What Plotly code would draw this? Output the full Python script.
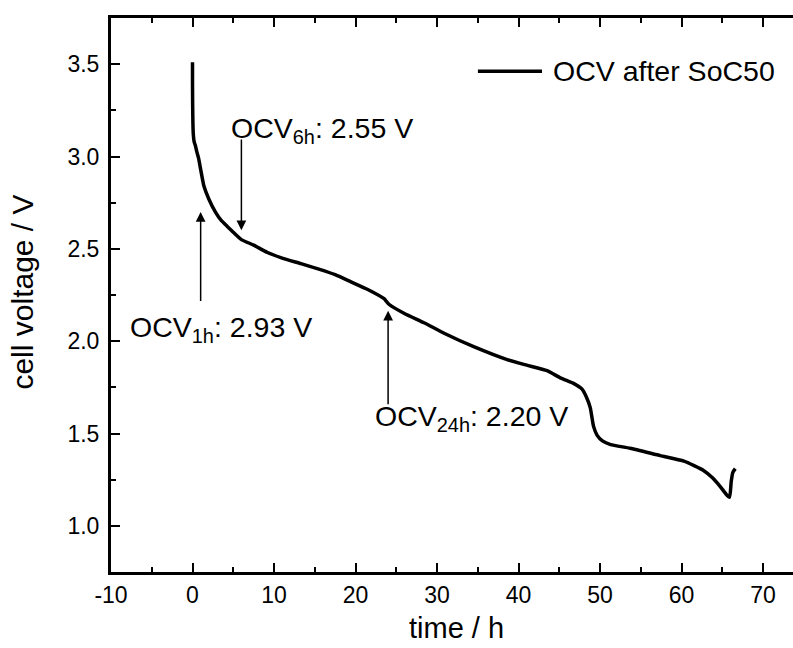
import plotly.graph_objects as go

# Open-circuit voltage relaxation after SoC50
time_h = [0.0, 0.0, 0.02, 0.05, 0.1, 0.2, 0.35, 0.5, 0.75, 1.0, 1.4, 2.0, 2.8,
          3.5, 4.3, 5.0, 6.0, 7.5, 9.2, 11.0, 13.3, 15.5, 17.5, 19.5, 21.5,
          23.5, 23.8, 24.1, 26.0, 28.4, 31.0, 34.5, 38.6, 41.0, 43.5, 45.2,
          46.8, 47.8, 48.3, 48.8, 49.2, 49.65, 50.3, 51.3, 53.7, 57.4, 60.3,
          62.7, 63.8, 64.8, 65.5, 65.9, 66.1, 66.3, 66.6]
cell_v = [3.51, 3.40, 3.28, 3.18, 3.12, 3.08, 3.06, 3.03, 2.99, 2.93, 2.84,
          2.77, 2.70, 2.655, 2.62, 2.59, 2.55, 2.52, 2.48, 2.45, 2.42, 2.39,
          2.36, 2.32, 2.28, 2.23, 2.215, 2.20, 2.15, 2.10, 2.04, 1.97, 1.90,
          1.87, 1.84, 1.80, 1.77, 1.74, 1.70, 1.64, 1.54, 1.49, 1.46, 1.44,
          1.42, 1.38, 1.35, 1.30, 1.26, 1.21, 1.17, 1.155, 1.24, 1.29, 1.31]

# Marked OCV readings
marker_times = [1, 6, 24]
marker_volts = [2.93, 2.55, 2.20]
marker_subs = ["1h", "6h", "24h"]

x_tick_vals = [-10, 0, 10, 20, 30, 40, 50, 60, 70]
x_tick_text = ["-10", "0", "10", "20", "30", "40", "50", "60", "70"]
y_tick_vals = [1.0, 1.5, 2.0, 2.5, 3.0, 3.5]
y_tick_text = ["1.0", "1.5", "2.0", "2.5", "3.0", "3.5"]

FONT = "Arial, Liberation Sans, sans-serif"
TXT = 28.5

fig = go.Figure()
fig.add_trace(go.Scatter(x=time_h, y=cell_v, mode="lines",
                         line=dict(color="black", width=3.5, shape="spline",
                                   smoothing=0.5),
                         name="OCV after SoC50", showlegend=False))

# arrow head / tail voltages and text anchor positions
arrow_heads = [2.70, 2.60, 2.165]
arrow_tails = [2.21, 3.10, 1.65]
text_x = [-7.95, 4.45, 22.2]
text_y = [2.065, 3.145, 1.585]

for t, v, sub, hy, ty, tx, tyy in zip(marker_times, marker_volts, marker_subs,
                                      arrow_heads, arrow_tails, text_x, text_y):
    fig.add_annotation(x=t, y=hy, ax=t, ay=ty, xref="x", yref="y",
                       axref="x", ayref="y", text="", showarrow=True,
                       arrowhead=2, arrowsize=1.3, arrowwidth=1.5,
                       arrowcolor="black", standoff=0, startstandoff=0)
    fig.add_annotation(x=tx, y=tyy, xref="x", yref="y", showarrow=False,
                       xanchor="left", yanchor="middle",
                       text=f"OCV<sub>{sub}</sub>: {v:.2f} V",
                       font=dict(family=FONT, size=TXT, color="black"))

# legend entry
fig.add_shape(type="line", xref="paper", yref="paper",
              x0=0.538, x1=0.632, y0=0.904, y1=0.904,
              line=dict(color="black", width=3.5))
fig.add_annotation(x=0.645, y=0.904, xref="paper", yref="paper",
                   showarrow=False, xanchor="left", yanchor="middle",
                   text="OCV after SoC50",
                   font=dict(family=FONT, size=TXT, color="black"))

# axis titles
fig.add_annotation(x=0.507, y=-0.101, xref="paper", yref="paper",
                   showarrow=False, xanchor="center", yanchor="middle",
                   text="time / h",
                   font=dict(family=FONT, size=29, color="black"))
fig.add_annotation(x=-0.13, y=0.505, xref="paper", yref="paper",
                   showarrow=False, xanchor="center", yanchor="middle",
                   textangle=-90, text="cell voltage / V",
                   font=dict(family=FONT, size=30, color="black"))

axis_common = dict(showgrid=False, zeroline=False, showline=True,
                   linecolor="black", linewidth=3, ticks="inside",
                   ticklen=9, tickwidth=2, tickcolor="black",
                   tickfont=dict(family=FONT, size=23, color="black"))

fig.update_xaxes(range=[-10, 73.68], tickmode="array", tickvals=x_tick_vals,
                 ticktext=x_tick_text, mirror="ticks",
                 minor=dict(dtick=5, tick0=0, ticks="inside", ticklen=5,
                            tickwidth=2, tickcolor="black"),
                 **axis_common)
fig.update_yaxes(range=[0.75, 3.75], tickmode="array", tickvals=y_tick_vals,
                 ticktext=y_tick_text, mirror=False, ticklabelstandoff=4,
                 minor=dict(dtick=0.25, tick0=0, ticks="inside", ticklen=5,
                            tickwidth=2, tickcolor="black"),
                 **axis_common)

fig.update_layout(width=793, height=648, autosize=False,
                  margin=dict(l=111, r=0, t=18, b=76, pad=0),
                  plot_bgcolor="white", paper_bgcolor="white",
                  showlegend=False)

fig.write_html("out.html")
